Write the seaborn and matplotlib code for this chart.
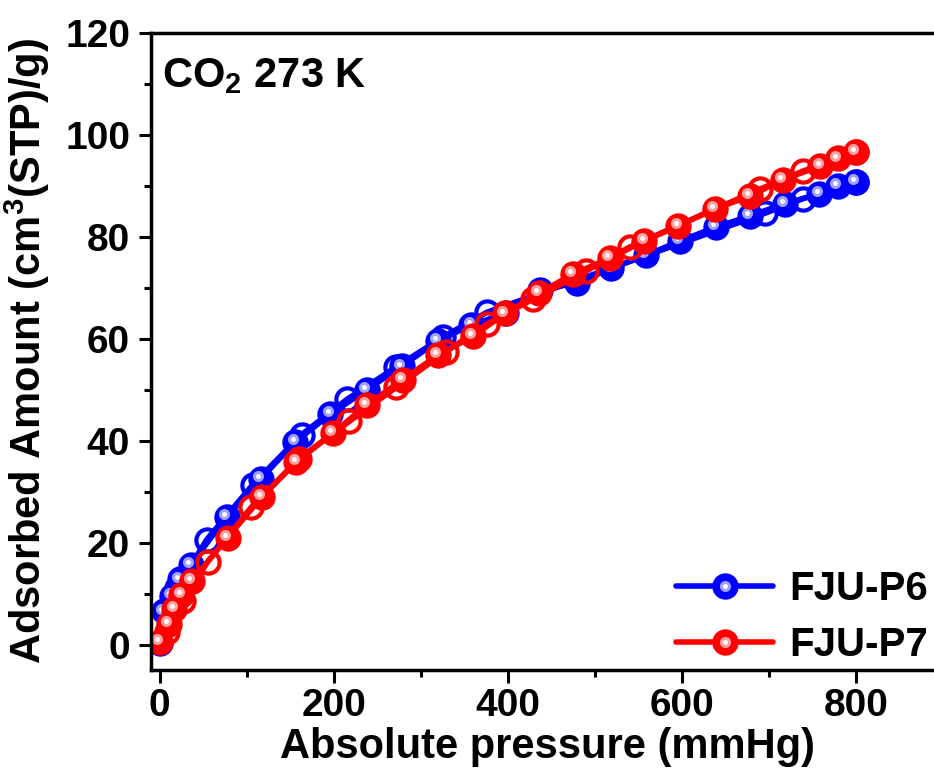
import numpy as np
import pandas as pd
import seaborn as sns
import matplotlib
matplotlib.use('Agg')
import matplotlib.pyplot as plt
from matplotlib.ticker import MultipleLocator
from matplotlib.transforms import offset_copy
from matplotlib.lines import Line2D
from matplotlib.legend_handler import HandlerTuple

# data (mmHg, cm3(STP)/g)
p6_ads_p = [0.5, 5, 14, 23, 36, 77, 116, 156, 196, 238, 278, 320, 358, 398, 437, 479, 519, 559, 598, 639, 678, 718, 758, 779, 800]
p6_ads_v = [0.3, 6.5, 9.6, 12.8, 15.7, 25.1, 32.5, 39.8, 45.2, 50.0, 54.6, 59.6, 62.7, 65.0, 69.5, 71.0, 73.8, 76.4, 79.2, 81.9, 84.1, 86.5, 88.4, 90.0, 90.8]
p6_des_p = [800, 739, 695, 376, 325, 272, 215, 163, 107, 54, 20]
p6_des_v = [90.8, 87.5, 84.6, 65.2, 60.3, 54.5, 48.1, 41.2, 31.4, 20.6, 11.0]

p7_ads_p = [0.5, 11, 17, 25, 37, 78, 117, 157, 199, 238, 279, 320, 360, 397, 436, 475, 517, 557, 596, 638, 678, 716, 759, 779, 800]
p7_ads_v = [0.5, 4.0, 7.0, 9.8, 12.5, 21.0, 28.9, 35.8, 41.5, 47.0, 52.0, 56.8, 60.5, 65.0, 69.0, 72.7, 75.8, 79.2, 82.2, 85.5, 88.0, 91.2, 93.9, 95.4, 96.6]
p7_des_p = [800, 739, 690, 540, 490, 429, 376, 329, 272, 218, 160, 105, 55, 27, 8]
p7_des_v = [96.6, 92.9, 89.4, 78.0, 73.3, 67.8, 62.9, 57.5, 50.5, 43.8, 36.5, 26.9, 16.2, 8.5, 2.5]

labels = ['FJU-P6', 'FJU-P7']
colors = ['#0000ff', '#ff0000']
lights = ['#a0a0ff', '#ffa0a0']

sns.set_style('ticks')
plt.rcParams['font.family'] = ['Liberation Sans', 'DejaVu Sans']
plt.rcParams['font.weight'] = 'bold'
plt.rcParams['mathtext.fontset'] = 'custom'
plt.rcParams['mathtext.rm'] = 'Liberation Sans:bold'
plt.rcParams['mathtext.bf'] = 'Liberation Sans:bold'
plt.rcParams['mathtext.default'] = 'bf'
# plain black text and axes
for k in ['text.color', 'axes.labelcolor', 'xtick.color', 'ytick.color', 'axes.edgecolor']:
    plt.rcParams[k] = 'black'

fig = plt.figure(figsize=(9.34, 7.76), dpi=100)
ax = fig.add_axes([151/934, 106/776, 792/934, 637/776])

series = [(p6_ads_p, p6_ads_v, p6_des_p, p6_des_v),
          (p7_ads_p, p7_ads_v, p7_des_p, p7_des_v)]

hl = offset_copy(ax.transData, fig=fig, x=-2, y=2, units='points')

for (ap, av, dp, dv), c, lc in zip(series, colors, lights):
    ads = pd.DataFrame({'p': ap, 'v': av})
    des = pd.DataFrame({'p': dp, 'v': dv})
    sns.lineplot(data=des, x='p', y='v', ax=ax, color=c, lw=4, estimator=None,
                 sort=False, marker='o', markersize=16, markerfacecolor='none',
                 markeredgecolor=c, markeredgewidth=3, legend=False)
    sns.lineplot(data=ads, x='p', y='v', ax=ax, color=c, lw=4, estimator=None,
                 sort=False, marker='o', markersize=19, markerfacecolor=c,
                 markeredgecolor=c, markeredgewidth=0, legend=False)
    ax.plot(ap, av, 'o', ms=8, color=lc, mew=0, transform=hl)
    ax.plot(ap, av, 'o', ms=3.5, color='white', mew=0, transform=hl)

ax.set_xlim(-10, 900)
ax.set_ylim(-5, 120)
ax.xaxis.set_major_locator(MultipleLocator(200))
ax.xaxis.set_minor_locator(MultipleLocator(100))
ax.yaxis.set_major_locator(MultipleLocator(20))
ax.yaxis.set_minor_locator(MultipleLocator(10))
ax.tick_params(which='major', direction='out', length=9, width=2.2, labelsize=28, pad=4)
ax.tick_params(which='minor', direction='out', length=5, width=2.2)
ax.tick_params(axis='y', which='major', pad=6)
for lab in ax.get_xticklabels() + ax.get_yticklabels():
    lab.set_fontweight('bold')
for s in ['left', 'bottom', 'top']:
    ax.spines[s].set_linewidth(2.5)
    ax.spines[s].set_color('black')
ax.spines['right'].set_visible(False)

ax.set_xlabel('Absolute pressure (mmHg)', fontsize=30, fontweight='bold', labelpad=2)
ax.set_ylabel('Adsorbed Amount (cm$^3$(STP)/g)', fontsize=30, fontweight='bold')
ax.yaxis.set_label_coords(-0.125, 0.5)

fig.text(162/934, 1 - 87/776, 'CO$_2$ 273 K', fontsize=30, fontweight='bold',
         ha='left', va='baseline')

handles = []
for c, lc in zip(colors, lights):
    h1 = Line2D([], [], color=c, lw=4, marker='o', ms=19, mfc=c, mec=c, mew=0)
    h2 = Line2D([], [], ls='none', marker='o', ms=8, color=lc, mew=0)
    h3 = Line2D([], [], ls='none', marker='o', ms=3.5, color='white', mew=0)
    handles.append((h1, h2, h3))
ax.legend(handles, labels, handler_map={tuple: HandlerTuple(ndivide=1)},
          loc='lower right', bbox_to_anchor=(928/934, 112/776),
          bbox_transform=fig.transFigure, frameon=False,
          handlelength=2.4, handletextpad=0.4, labelspacing=0.45,
          borderpad=0, borderaxespad=0, prop={'weight': 'bold', 'size': 29})

fig.savefig('out.png', dpi=100)
